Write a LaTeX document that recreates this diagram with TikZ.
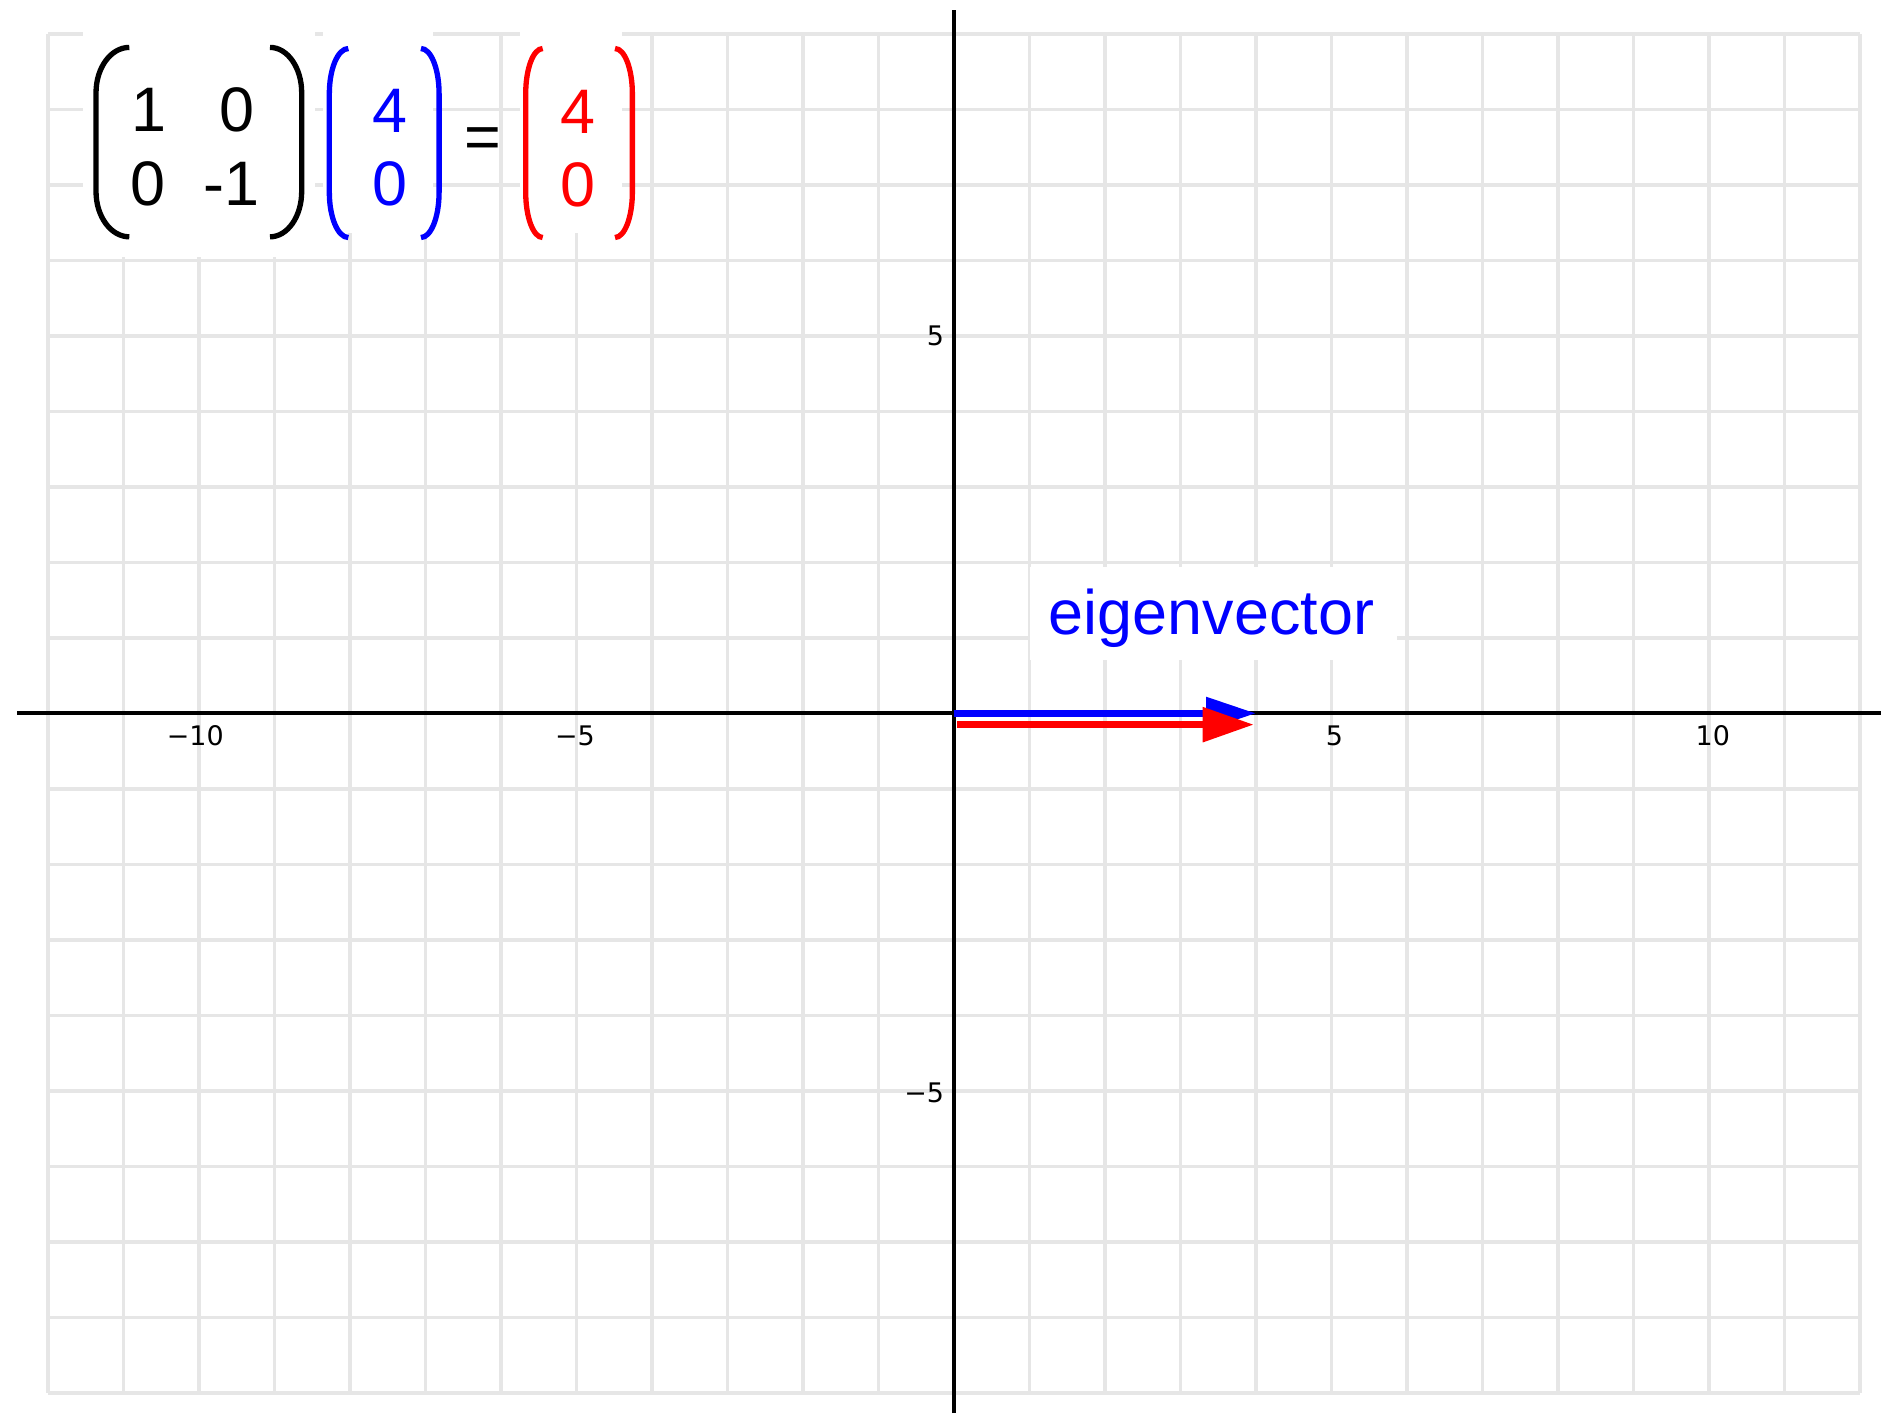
\documentclass[tikz,border=0pt]{standalone}
\usepackage{fontspec}
\setmainfont{Liberation Sans}
\newfontfamily\tickfont{DejaVu Sans}
\usetikzlibrary{arrows.meta}
\definecolor{gridgray}{RGB}{230,230,230}
\tikzset{
  gridline/.style={draw=gridgray, line width=1.3pt},
  axisline/.style={draw=black, line width=1.5pt},
  knockout/.style={fill=white, draw=none},
  entry/.style={font=\fontsize{23.7}{28}\selectfont, inner sep=0pt, anchor=base},
  ticklabel/.style={font=\tickfont\fontsize{10.15}{12}\selectfont, inner sep=0pt},
  paren/.style={line width=2pt},
  vecline/.style={line width=2.63pt},
}
\begin{document}
\begin{tikzpicture}
\useasboundingbox (-12.636,-9.268) rectangle (12.450,9.448);
% grid
\draw[gridline] (-12,-9) grid (12,9);
% white knockout panels behind the texts
\fill[knockout] (-11.54,6.04) rectangle (-8.467,9.2);
\fill[knockout] (-8.36,6.36) rectangle (-6.90,9.2);
\fill[knockout] (-5.75,6.36) rectangle (-4.40,9.2);
\fill[knockout] (1.01,0.706) rectangle (5.87,1.942);
% axes
\coordinate (xL) at (-12.41,0);
\coordinate (xR) at (12.28,0);
\coordinate (yT) at (0,9.315);
\coordinate (yB) at (0,-9.268);
\draw[axisline] (xL) -- (xR);
\draw[axisline] (yB) -- (yT);
% tick labels
\node[ticklabel, anchor=base] (tx1) at (-10.05,-0.42) {−10};
\node[ticklabel, anchor=base] (tx2) at (-5.02,-0.42) {−5};
\node[ticklabel, anchor=base] (tx3) at (5.04,-0.42) {5};
\node[ticklabel, anchor=base] (tx4) at (10.05,-0.42) {10};
\node[ticklabel, anchor=base east] (ty1) at (-0.125,4.87) {5};
\node[ticklabel, anchor=base east] (ty2) at (-0.125,-5.15) {−5};
% vectors
\coordinate (O) at (0,0);
\coordinate (B) at (4,0);
\coordinate (R0) at (0.04,-0.15);
\coordinate (R1) at (3.97,-0.15);
\draw[vecline, blue, -{Triangle[length=0.662cm, width=0.413cm]}] (O) -- (B);
\draw[vecline, red, -{Triangle[length=0.676cm, width=0.445cm]}] (R0) -- (R1);
\node[entry, text=blue] (lbl) at (3.41,1.046) {eigenvector};
% matrix parentheses
\draw[paren, black] (-10.923,8.82) arc[start angle=90, end angle=180, x radius=0.441, y radius=0.6]
  -- (-11.364,6.911) arc[start angle=180, end angle=270, x radius=0.441, y radius=0.6];
\draw[paren, black] (-9.06,8.82) arc[start angle=90, end angle=0, x radius=0.42, y radius=0.6]
  -- (-8.64,6.911) arc[start angle=0, end angle=-90, x radius=0.42, y radius=0.6];
\draw[paren, blue] (-8.022,8.805) arc[start angle=90, end angle=180, x radius=0.252, y radius=0.6]
  -- (-8.274,6.902) arc[start angle=180, end angle=270, x radius=0.252, y radius=0.6];
\draw[paren, blue] (-7.06,8.805) arc[start angle=90, end angle=0, x radius=0.24, y radius=0.6]
  -- (-6.82,6.902) arc[start angle=0, end angle=-90, x radius=0.24, y radius=0.6];
\draw[paren, red] (-5.448,8.805) arc[start angle=90, end angle=180, x radius=0.225, y radius=0.6]
  -- (-5.673,6.902) arc[start angle=180, end angle=270, x radius=0.225, y radius=0.6];
\draw[paren, red] (-4.49,8.805) arc[start angle=90, end angle=0, x radius=0.23, y radius=0.6]
  -- (-4.26,6.902) arc[start angle=0, end angle=-90, x radius=0.23, y radius=0.6];
% matrix entries
\node[entry] (a11) at (-10.66,7.706) {1};
\node[entry] (a12) at (-9.50,7.706) {0};
\node[entry] (a21) at (-10.67,6.72) {0};
\node[entry] (a22) at (-9.57,6.72) {-1};
\node[entry, text=blue] (v1) at (-7.47,7.69) {4};
\node[entry, text=blue] (v2) at (-7.47,6.72) {0};
\node[entry, anchor=center] (eq) at (-6.234,7.55) {=};
\node[entry, text=red] (w1) at (-4.976,7.68) {4};
\node[entry, text=red] (w2) at (-4.976,6.71) {0};
\end{tikzpicture}
\end{document}
